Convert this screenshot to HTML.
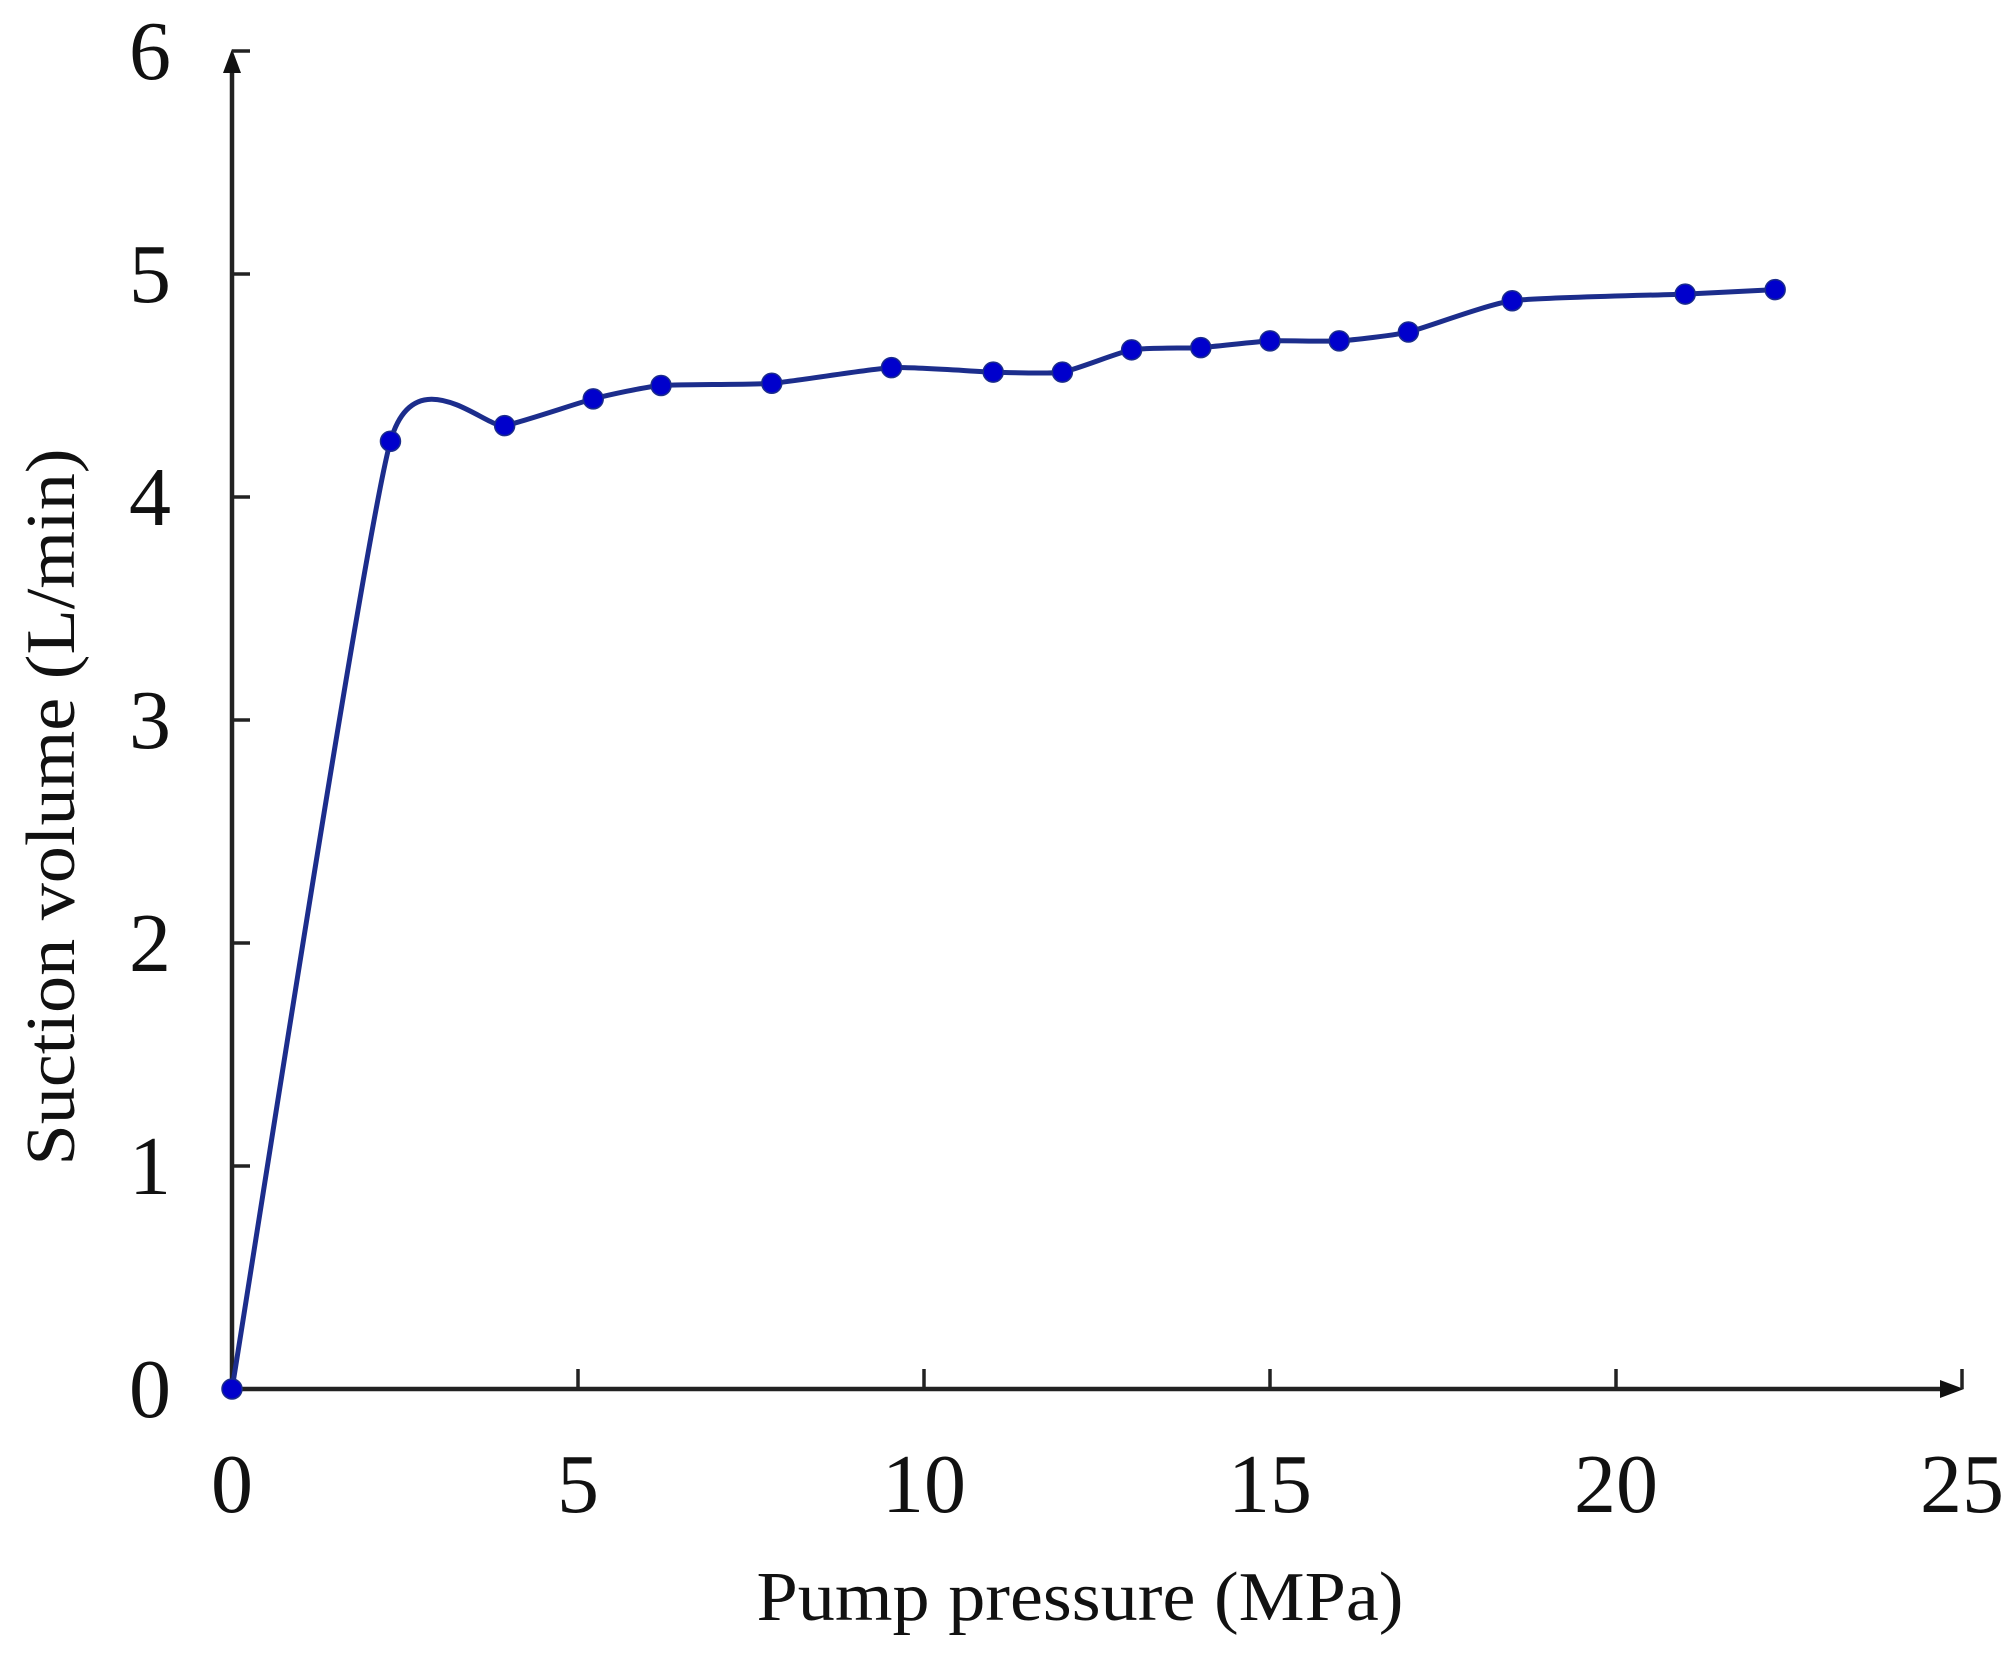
<!DOCTYPE html>
<html><head><meta charset="utf-8"><style>
html,body{margin:0;padding:0;background:#fff;}
svg{display:block;}
text{font-family:"Liberation Serif",serif;fill:#111;}
</style></head><body>
<svg id="chart" width="2008" height="1659" viewBox="0 0 2008 1659" xmlns="http://www.w3.org/2000/svg">
<g id="axes"></g>
<g id="series"></g>
<text x="1080" y="1620" font-size="70" text-anchor="middle" textLength="647" lengthAdjust="spacingAndGlyphs">Pump pressure (MPa)</text>
<text x="0" y="0" font-size="70" text-anchor="middle" textLength="717" lengthAdjust="spacingAndGlyphs" transform="translate(74,807) rotate(-90)">Suction volume (L/min)</text>
</svg>
<script>
const xTicks = [0, 5, 10, 15, 20, 25];
const yTicks = [0, 1, 2, 3, 4, 5, 6];
const pressure = [0, 2.29, 3.94, 5.22, 6.2, 7.8, 9.53, 11.0, 12.0, 13.0, 14.0, 15.0, 16.0, 17.0, 18.5, 21.0, 22.3];
const suction = [0, 4.25, 4.32, 4.44, 4.5, 4.51, 4.58, 4.56, 4.56, 4.66, 4.67, 4.70, 4.70, 4.74, 4.88, 4.91, 4.93];

const X0 = 232, XU = 69.2, Y0 = 1389, YU = 223;
function sx(v){ return X0 + v * XU; }
function sy(v){ return Y0 - v * YU; }
const NS = 'http://www.w3.org/2000/svg';
function mk(tag, attrs, parent){
  const e = document.createElementNS(NS, tag);
  for (const k in attrs) e.setAttribute(k, attrs[k]);
  parent.appendChild(e);
  return e;
}
const axes = document.getElementById('axes');
const ser = document.getElementById('series');

const ya = mk('line', {x1:sx(0), y1:sy(0), x2:sx(0), y2:sy(6)+8, stroke:'#222', 'stroke-width':4.5}, axes);


const yar = mk('polygon', {points:`${sx(0)-9},${sy(6)+22} ${sx(0)+9},${sy(6)+22} ${sx(0)},${sy(6)-2}`, fill:'#111'}, axes);


const xa = mk('line', {x1:sx(0), y1:sy(0), x2:sx(25)-8, y2:sy(0), stroke:'#222', 'stroke-width':4.5}, axes);


const xar = mk('polygon', {points:`${sx(25)-22},${sy(0)-9} ${sx(25)-22},${sy(0)+9} ${sx(25)+2},${sy(0)}`, fill:'#111'}, axes);



yTicks.forEach(t => {
  const tk = mk('line', {x1:sx(0), y1:sy(t), x2:sx(0)+18, y2:sy(t), stroke:'#222', 'stroke-width':3.5}, axes);
  
  
  const lb = mk('text', {x:150, y:sy(t)+28, 'font-size':84, 'text-anchor':'middle'}, axes);
  lb.textContent = t;
  
  
});
xTicks.forEach(t => {
  const tk = mk('line', {x1:sx(t), y1:sy(0), x2:sx(t), y2:sy(0)-20, stroke:'#222', 'stroke-width':3.5}, axes);
  
  
  const lb = mk('text', {x:sx(t), y:1512, 'font-size':84, 'text-anchor':'middle'}, axes);
  lb.textContent = t;
  
  
});

const pts = pressure.map((p,i)=>[sx(p), sy(suction[i])]);
let d = `M${pts[0][0]},${pts[0][1]}`;
const tn = 0.09;
for (let i=0;i<pts.length-1;i++){
  const p0 = pts[Math.max(0,i-1)], p1 = pts[i], p2 = pts[i+1], p3 = pts[Math.min(pts.length-1,i+2)];
  const c1 = [p1[0]+(p2[0]-p0[0])*tn, p1[1]+(p2[1]-p0[1])*tn];
  const c2 = [p2[0]-(p3[0]-p1[0])*tn, p2[1]-(p3[1]-p1[1])*tn];
  d += ` C${c1[0]},${c1[1]} ${c2[0]},${c2[1]} ${p2[0]},${p2[1]}`;
}
const ln = mk('path', {d:d, fill:'none', stroke:'#1c2d8c', 'stroke-width':5}, ser);


pts.forEach(p => {
  const c = mk('circle', {cx:p[0], cy:p[1], r:10, fill:'#0000cc', stroke:'#1c2d8c', 'stroke-width':1.5}, ser);
  
  
});
</script>
</body></html>
